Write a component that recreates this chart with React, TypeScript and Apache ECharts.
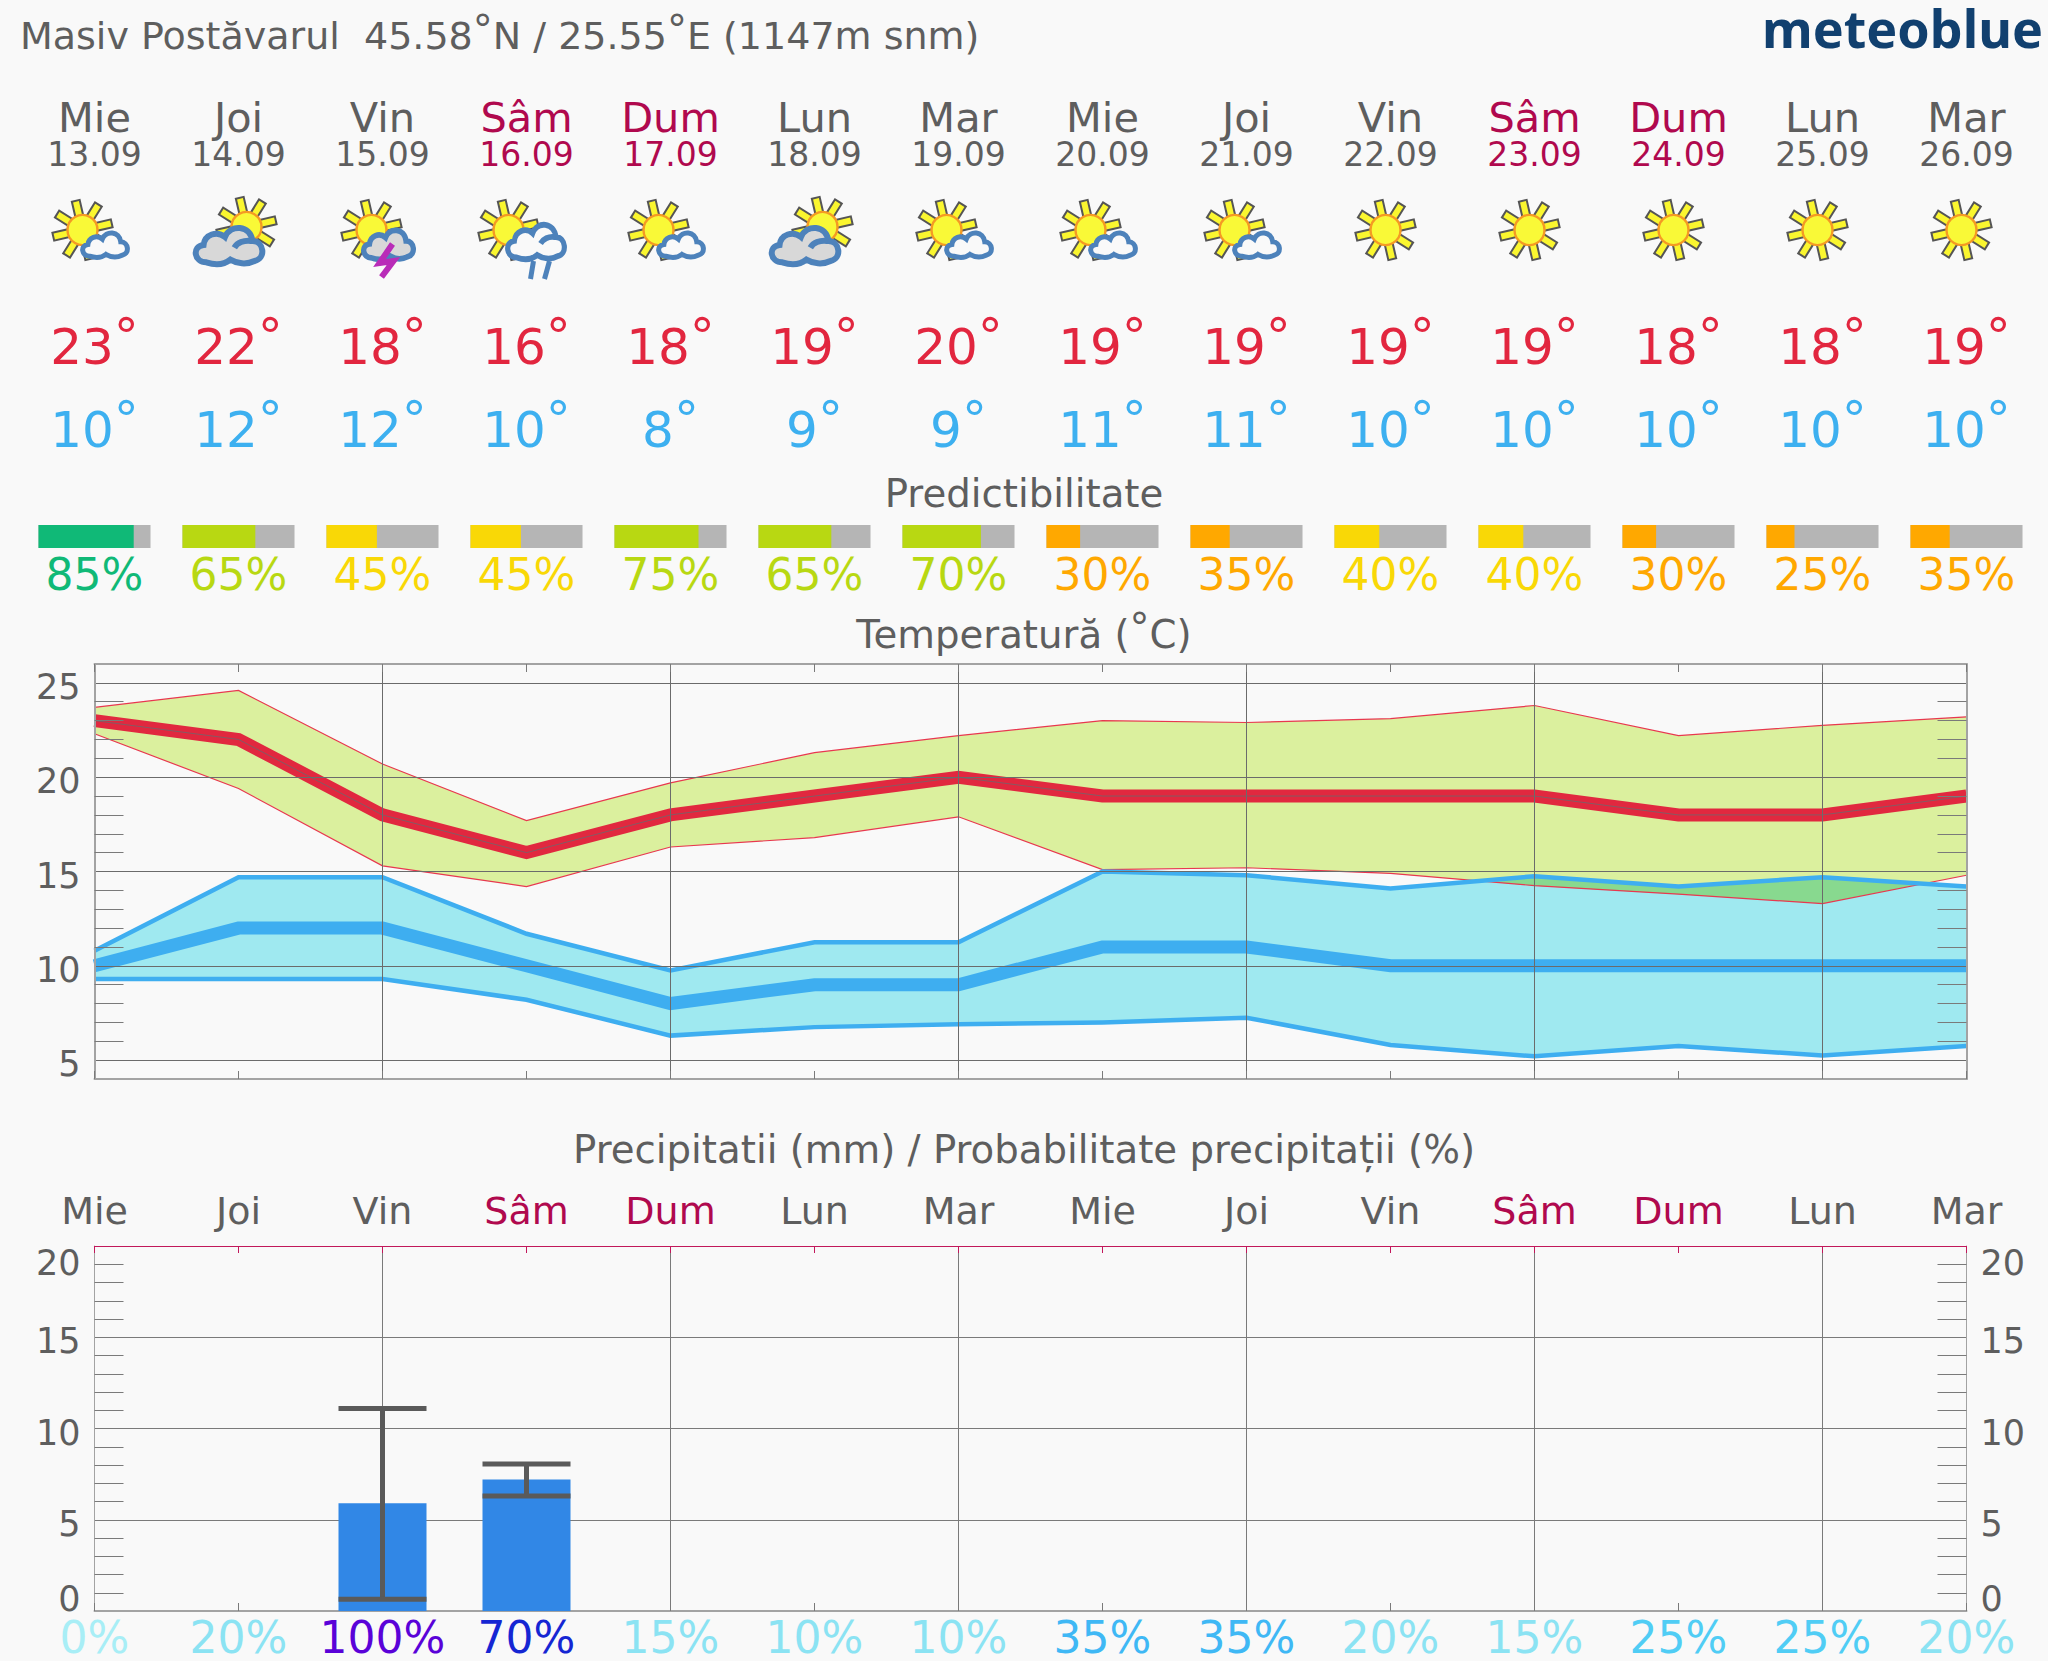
import React, { useEffect, useRef } from "react";
import * as echarts from "echarts";

const days = ["Mie", "Joi", "Vin", "Sâm", "Dum", "Lun", "Mar", "Mie", "Joi", "Vin", "Sâm", "Dum", "Lun", "Mar"];
const dates = ["13.09", "14.09", "15.09", "16.09", "17.09", "18.09", "19.09", "20.09", "21.09", "22.09", "23.09", "24.09", "25.09", "26.09"];
const icons = ["small", "big", "storm", "rain", "small", "big", "small", "small", "small", "sun", "sun", "sun", "sun", "sun"];
const tMaxLabels = [23, 22, 18, 16, 18, 19, 20, 19, 19, 19, 19, 18, 18, 19];
const tMinLabels = [10, 12, 12, 10, 8, 9, 9, 11, 11, 10, 10, 10, 10, 10];
const predictability = [85, 65, 45, 45, 75, 65, 70, 30, 35, 40, 40, 30, 25, 35];

const redMain = [23, 22, 18, 16, 18, 19, 20, 19, 19, 19, 19, 18, 18, 19];
const redHigh = [23.7, 24.6, 20.7, 17.7, 19.7, 21.3, 22.2, 23.0, 22.9, 23.1, 23.8, 22.2, 22.75, 23.2];
const redLow = [22.3, 19.4, 15.3, 14.2, 16.3, 16.8, 17.9, 15.1, 15.2, 14.9, 14.25, 13.8, 13.3, 14.8];
const blueMain = [10, 12, 12, 10, 8, 9, 9, 11, 11, 10, 10, 10, 10, 10];
const blueHigh = [10.8, 14.7, 14.7, 11.7, 9.75, 11.25, 11.25, 15, 14.8, 14.1, 14.75, 14.2, 14.7, 14.2];
const blueLow = [9.3, 9.3, 9.3, 8.2, 6.3, 6.75, 6.9, 7.0, 7.25, 5.8, 5.2, 5.75, 5.25, 5.75];

const precip = [0, 0, 5.9, 7.2, 0, 0, 0, 0, 0, 0, 0, 0, 0, 0];
const whiskers = [
  [2, 0.65, 11.1],
  [3, 6.3, 8.05],
];
const precipProb = ["0%", "20%", "100%", "70%", "15%", "10%", "10%", "35%", "35%", "20%", "15%", "25%", "25%", "20%"];

const FONT = "DejaVu Sans";
const BG = "#f9f9f9";
const GRAY = "#5e5e5e";
const WEEKEND = "#b0094e";
const LEFT = 94.5;
const WIDTH = 1872;
const STEP = WIDTH / 13;
const colX = (i: number) => LEFT + STEP * i;
const dayColor = (i: number) => (days[i] === "Sâm" || days[i] === "Dum" ? WEEKEND : GRAY);
const predColor = (p: number) => (p >= 80 ? "#10b977" : p >= 60 ? "#b8d812" : p >= 40 ? "#f9d806" : "#ffa800");
const probColor = (s: string) => {
  const p = parseInt(s);
  if (p >= 100) return "#5a02d8";
  if (p >= 70) return "#1526d3";
  if (p >= 35) return "#3fb8f5";
  if (p >= 25) return "#50cdf5";
  if (p >= 10) return "#8be3f3";
  return "#a8eef6";
};

const CLOUD_OUTLINE =
  "M16 56 C-2 56 -6 32 12 30 C14 14 32 8 44 18 C52 -2 82 0 85 24 C102 24 106 50 88 54 C76 60 62 58 52 52 C42 60 28 60 16 56 Z";
echarts.graphic.registerShape("wxcloud", echarts.graphic.extendPath(CLOUD_OUTLINE, {}));
echarts.graphic.registerShape("wxswirl", echarts.graphic.extendPath("M58 34 C62 27 72 22 84 24", {}));

const text = (t: string, x: number, y: number, size: number, fill: string, extra: any = {}) => ({
  type: "text",
  x,
  y,
  silent: true,
  style: { text: t, fontSize: size, fontFamily: FONT, fill, align: "center", verticalAlign: "middle", ...extra },
});

const degText = (value: number, x: number, y: number, fill: string) =>
  text(`{n|${value}}{d|°}`, x, y, 50, fill, {
    rich: {
      n: { fontSize: 50, fontFamily: FONT, fill },
      d: { fontSize: 50, fontFamily: FONT, fill, padding: [0, 0, 20, 0] },
    },
  });

function sun(cx: number, cy: number) {
  const rays: any[] = [];
  for (let k = 0; k < 8; k++) {
    rays.push({
      type: "rect",
      x: cx,
      y: cy,
      rotation: (-(32 + 45 * k) * Math.PI) / 180,
      shape: { x: 12, y: -4, width: 18, height: 8 },
      style: { fill: "#faf62f", stroke: "#555555", lineWidth: 2 },
    });
  }
  rays.push({
    type: "circle",
    shape: { cx, cy, r: 15 },
    style: { fill: "#f9f937", stroke: "#f59a23", lineWidth: 2.4 },
  });
  return rays;
}

function cloud(x0: number, x1: number, y0: number, y1: number, fill: string, swirl: boolean, lw: number) {
  const sx = (x1 - x0) / 100;
  const sy = (y1 - y0) / 60;
  const w = lw / ((sx + sy) / 2);
  const parts: any[] = [
    { type: "wxcloud", x: x0, y: y0, scaleX: sx, scaleY: sy, style: { fill, stroke: "#4d82bb", lineWidth: w } },
  ];
  if (swirl) {
    parts.push({ type: "wxswirl", x: x0, y: y0, scaleX: sx, scaleY: sy, style: { fill: "none", stroke: "#4d82bb", lineWidth: w } });
  }
  return parts;
}

function icon(kind: string, c: number) {
  if (kind === "sun") return sun(c - 5, 230);
  if (kind === "small") return [...sun(c - 12, 230), ...cloud(c - 12, c + 33, 231, 258, BG, false, 5)];
  if (kind === "big") return [...sun(c + 8, 227), ...cloud(c - 43, c + 24, 225, 265, "#d8d8d8", true, 6)];
  if (kind === "storm") {
    return [
      ...sun(c - 11, 230),
      ...cloud(c - 19, c + 31, 228, 260, "#d8d8d8", false, 5.5),
      {
        type: "polyline",
        shape: { points: [[c + 10, 244], [c - 3, 263], [c + 11, 261], [c - 1, 277]] },
        style: { fill: "none", stroke: "#b92cb8", lineWidth: 6 },
      },
    ];
  }
  return [
    ...sun(c - 18, 230),
    ...cloud(c - 19, c + 38, 222, 260, BG, true, 5.5),
    { type: "line", shape: { x1: c + 7, y1: 261, x2: c + 4, y2: 279 }, style: { stroke: "#4d82bb", lineWidth: 5 } },
    { type: "line", shape: { x1: c + 23, y1: 261, x2: c + 18, y2: 279 }, style: { stroke: "#4d82bb", lineWidth: 5 } },
  ];
}

const edge = (data: number[], color: string, width: number, name: string) => ({
  type: "line",
  name,
  xAxisIndex: 1,
  yAxisIndex: 1,
  data,
  symbol: "none",
  lineStyle: { color, width, join: "miter", cap: "butt" },
  silent: true,
});

function band(api: any, high: number[], low: number[]) {
  const pts: number[][] = [];
  high.forEach((v, i) => pts.push(api.coord([i, v])));
  for (let i = low.length - 1; i >= 0; i--) pts.push(api.coord([i, low[i]]));
  return pts;
}

function buildOption() {
  const bandAxisLine = { show: true, onZero: false, lineStyle: { color: "#a3a3a3", width: 2 } };
  const minorTick = { show: true, splitNumber: 5, length: 29, lineStyle: { color: "#7a7a7a", width: 1 } };
  const xBase = (position: string, gridIndex: number, data: string[]) => ({
    type: "category",
    gridIndex,
    position,
    data,
    boundaryGap: false,
    axisLine: bandAxisLine,
    axisTick: { show: true, inside: true, length: 8, interval: 0, lineStyle: { color: "#7a7a7a" } },
    axisLabel: { show: false },
    splitLine: { show: false },
  });
  const yLabel = (rich: any, margin: number) => ({
    show: true,
    margin,
    fontFamily: FONT,
    fontSize: 35,
    color: GRAY,
    rich,
  });
  const tick = { fontSize: 35, fontFamily: FONT, color: GRAY };
  const richT = { a: { ...tick, padding: [8, 0, 0, 0] } };
  const richP = {
    a: { ...tick, padding: [8, 0, 0, 0] },
    t: { ...tick, padding: [34, 0, 0, 0] },
    b: { ...tick, padding: [0, 0, 24, 0] },
  };
  const pFormatter = (v: number) => (v === 20 ? `{t|${v}}` : v === 0 ? `{b|${v}}` : `{a|${v}}`);

  const graphic: any[] = [
    text("Masiv Postăvarul  45.58{d|°}N / 25.55{d|°}E (1147m snm)", 20, 36, 38, GRAY, {
      align: "left",
      rich: { d: { fontSize: 40, fontFamily: FONT, fill: GRAY, padding: [0, 0, 13, 0] } },
    }),
    text("meteoblue", 2043, 27.5, 52, "#11406f", { align: "right", fontFamily: "Noto Sans", fontWeight: 700 }),
    text("Predictibilitate", 1024, 493.5, 38.7, GRAY),
    text("Temperatură ({d|°}C)", 1024, 634, 38.7, GRAY, {
      rich: { d: { fontSize: 40, fontFamily: FONT, fill: GRAY, padding: [0, 0, 12, 0] } },
    }),
    text("Precipitatii (mm) / Probabilitate precipitații (%)", 1024, 1149, 38.7, GRAY),
  ];
  days.forEach((d, i) => {
    const c = colX(i);
    graphic.push(text(d, c, 117.5, 41.5, dayColor(i)));
    graphic.push(text(dates[i], c, 154, 33, dayColor(i)));
    graphic.push(...icon(icons[i], c));
    graphic.push(degText(tMaxLabels[i], c, 347, "#e2263f"));
    graphic.push(degText(tMinLabels[i], c, 430, "#3db0f0"));
  });

  return {
    animation: false,
    backgroundColor: BG,
    textStyle: { fontFamily: FONT },
    graphic: { elements: graphic },
    grid: [
      { left: LEFT, width: WIDTH, top: 525, height: 23, outerBoundsMode: "none" },
      { left: LEFT, width: WIDTH, top: 664, height: 415, outerBoundsMode: "none" },
      { left: LEFT, width: WIDTH, top: 1246, height: 365, outerBoundsMode: "none" },
    ],
    xAxis: [
      { type: "value", gridIndex: 0, min: 0, max: 13, show: false },
      { ...xBase("bottom", 1, days), z: 10, splitLine: { show: true, interval: (i: number) => i % 2 === 0, lineStyle: { color: "#6b6b6b", width: 1 } } },
      { ...xBase("top", 1, days), z: 10 },
      {
        ...xBase("bottom", 2, precipProb),
        splitLine: { show: true, interval: (i: number) => i % 2 === 0, lineStyle: { color: "#7a7a7a", width: 1 } },
        axisLabel: {
          show: true,
          interval: 0,
          margin: 4,
          fontSize: 44,
          fontFamily: FONT,
          hideOverlap: false,
          color: (_v: string, i: number) => probColor(precipProb[i]),
        },
      },
      {
        ...xBase("top", 2, days),
        axisLine: { show: true, onZero: false, lineStyle: { color: "#c2185b", width: 1.2 } },
        axisTick: { show: true, inside: true, length: 7, interval: 0, lineStyle: { color: "#c2185b" } },
        axisLabel: {
          show: true,
          interval: 0,
          margin: 16,
          fontSize: 38,
          fontFamily: FONT,
          hideOverlap: false,
          color: (_v: string, i: number) => dayColor(i),
        },
      },
    ],
    yAxis: [
      { type: "value", gridIndex: 0, min: 0, max: 1, show: false },
      {
        type: "value",
        gridIndex: 1,
        position: "left",
        min: 4,
        max: 26,
        splitNumber: 5,
        z: 10,
        axisLine: bandAxisLine,
        axisTick: { show: false, inside: true },
        minorTick,
        splitLine: { show: true, lineStyle: { color: "#6b6b6b", width: 1 } },
        axisLabel: {
          ...yLabel(richT, 14),
          showMinLabel: false,
          showMaxLabel: false,
          formatter: (v: number) => (v % 5 === 0 ? `{a|${v}}` : ""),
        },
      },
      {
        type: "value",
        gridIndex: 1,
        position: "right",
        min: 4,
        max: 26,
        splitNumber: 5,
        z: 10,
        axisLine: bandAxisLine,
        axisTick: { show: false, inside: true },
        minorTick,
        splitLine: { show: false },
        axisLabel: { show: false },
      },
      {
        type: "value",
        gridIndex: 2,
        position: "left",
        min: 0,
        max: 20,
        interval: 5,
        axisLine: { show: true, lineStyle: { color: "#a3a3a3", width: 1 } },
        axisTick: { show: false, inside: true },
        minorTick,
        splitLine: { show: true, lineStyle: { color: "#7a7a7a", width: 1 } },
        axisLabel: { ...yLabel(richP, 14), showMinLabel: true, showMaxLabel: true, formatter: pFormatter },
      },
      {
        type: "value",
        gridIndex: 2,
        position: "right",
        min: 0,
        max: 20,
        interval: 5,
        axisLine: { show: true, lineStyle: { color: "#a3a3a3", width: 1 } },
        axisTick: { show: false, inside: true },
        minorTick,
        splitLine: { show: false },
        axisLabel: { ...yLabel(richP, 14), showMinLabel: true, showMaxLabel: true, formatter: pFormatter },
      },
    ],
    series: [
      {
        type: "custom",
        name: "Predictibilitate",
        xAxisIndex: 0,
        yAxisIndex: 0,
        silent: true,
        data: predictability.map((p, i) => [i, p]),
        renderItem: (_p: any, api: any) => {
          const i = api.value(0);
          const p = api.value(1);
          const half = 0.389;
          const a = api.coord([i - half, 1]);
          const b = api.coord([i + half, 0]);
          const w = b[0] - a[0];
          const h = b[1] - a[1];
          return {
            type: "group",
            children: [
              { type: "rect", shape: { x: a[0], y: a[1], width: w, height: h }, style: { fill: "#b5b5b5" } },
              { type: "rect", shape: { x: a[0], y: a[1], width: (w * p) / 100, height: h }, style: { fill: predColor(p) } },
              {
                type: "text",
                style: {
                  text: `${p}%`,
                  x: (a[0] + b[0]) / 2,
                  y: 574,
                  align: "center",
                  verticalAlign: "middle",
                  fontSize: 44,
                  fontFamily: FONT,
                  fill: predColor(p),
                },
              },
            ],
          };
        },
      },
      {
        type: "custom",
        name: "band-red",
        xAxisIndex: 1,
        yAxisIndex: 1,
        silent: true,
        data: [[0, 0]],
        renderItem: (_p: any, api: any) => ({
          type: "polygon",
          shape: { points: band(api, redHigh, redLow) },
          style: { fill: "#dbf09e" },
        }),
      },
      edge(redHigh, "#e8384f", 1.2, "red-high"),
      edge(redLow, "#e8384f", 1.2, "red-low"),
      {
        type: "custom",
        name: "band-blue",
        xAxisIndex: 1,
        yAxisIndex: 1,
        silent: true,
        data: [[0, 0]],
        renderItem: (_p: any, api: any) => {
          const blue = band(api, blueHigh, blueLow);
          const red = band(api, redHigh, redLow);
          return {
            type: "group",
            children: [
              { type: "polygon", shape: { points: blue }, style: { fill: "#9fe9f0" } },
              {
                type: "polygon",
                shape: { points: blue },
                clipPath: { type: "polygon", shape: { points: red } },
                style: { fill: "#88d98f" },
              },
            ],
          };
        },
      },
      edge(blueHigh, "#3eaef0", 4.5, "blue-high"),
      edge(blueLow, "#3eaef0", 4.5, "blue-low"),
      edge(blueMain, "#3eaef0", 13, "blue-main"),
      edge(redMain, "#e1283f", 13, "red-main"),
      edge(redMain, "#7a6068", 0.9, "red-centre"),
      {
        type: "bar",
        name: "Precipitatii",
        xAxisIndex: 3,
        yAxisIndex: 3,
        barWidth: 88,
        data: precip,
        silent: true,
        z: 2,
        itemStyle: { color: "#3187e6" },
      },
      {
        type: "custom",
        name: "Interval",
        xAxisIndex: 3,
        yAxisIndex: 3,
        silent: true,
        z: 5,
        data: whiskers,
        renderItem: (_p: any, api: any) => {
          const i = api.value(0);
          const lo = api.coord([i, api.value(1)]);
          const hi = api.coord([i, api.value(2)]);
          const st = { stroke: "#5a5a5a", lineWidth: 5 };
          return {
            type: "group",
            children: [
              { type: "line", shape: { x1: lo[0], y1: lo[1], x2: hi[0], y2: hi[1] }, style: st },
              { type: "line", shape: { x1: lo[0] - 44, y1: lo[1], x2: lo[0] + 44, y2: lo[1] }, style: st },
              { type: "line", shape: { x1: hi[0] - 44, y1: hi[1], x2: hi[0] + 44, y2: hi[1] }, style: st },
            ],
          };
        },
      },
    ],
  };
}

export default function App() {
  const ref = useRef<HTMLDivElement>(null);
  useEffect(() => {
    const chart = echarts.init(ref.current!, undefined, { renderer: "svg" });
    chart.setOption(buildOption() as any);
    return () => chart.dispose();
  }, []);
  return <div ref={ref} style={{ position: "absolute", left: 0, top: 0, width: 2048, height: 1661 }} />;
}
